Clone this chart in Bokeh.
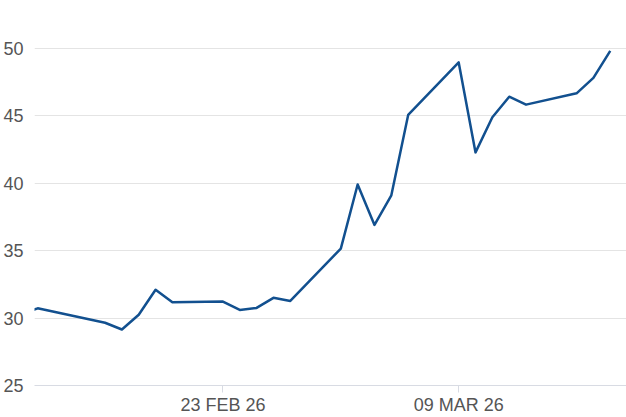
from datetime import datetime, timedelta
from bokeh.plotting import figure
from bokeh.models import Range1d, FixedTicker
from bokeh.embed import file_html
from bokeh.resources import INLINE

dates = ["2026-02-11", "2026-02-12", "2026-02-16", "2026-02-17", "2026-02-18",
         "2026-02-19", "2026-02-20", "2026-02-23", "2026-02-24", "2026-02-25",
         "2026-02-26", "2026-02-27", "2026-03-02", "2026-03-03", "2026-03-04",
         "2026-03-05", "2026-03-06", "2026-03-09", "2026-03-10", "2026-03-11",
         "2026-03-12", "2026-03-13", "2026-03-16", "2026-03-17", "2026-03-18"]
values = [30.3, 30.72, 29.65, 29.15, 30.24,
          32.1, 31.17, 31.22, 30.6, 30.75,
          31.5, 31.27, 35.15, 39.9, 36.9,
          39.1, 45.06, 48.95, 42.28, 44.89,
          46.41, 45.82, 46.66, 47.81, 49.8]
x_tick_dates = ["2026-02-23", "2026-03-09"]
x_tick_labels = ["23 FEB 26", "09 MAR 26"]
y_ticks = [25, 30, 35, 40, 45, 50]

xs = [datetime.strptime(d, "%Y-%m-%d") for d in dates]
epoch = datetime(1970, 1, 1)
def ms(dt):
    return (dt - epoch).total_seconds() * 1000.0

x_start = datetime(2026, 2, 12) - timedelta(days=0.19)
x_end = x_start + timedelta(days=35.155)

p = figure(width=626, height=417, x_axis_type="datetime",
           output_backend="svg", toolbar_location=None,
           x_range=Range1d(x_start, x_end), y_range=Range1d(25, 53.54),
           min_border_top=0, min_border_right=0, min_border_left=33, min_border_bottom=0)
p.outline_line_color = None
p.background_fill_color = "white"
p.border_fill_color = "white"

p.line(xs, values, line_color="#12508f", line_width=2.5, line_join="round")

tick_ms = [ms(datetime.strptime(d, "%Y-%m-%d")) for d in x_tick_dates]
p.xaxis.ticker = FixedTicker(ticks=tick_ms)
p.xaxis.major_label_overrides = {t: l for t, l in zip(tick_ms, x_tick_labels)}
p.xaxis.minor_tick_line_color = None
p.xaxis.axis_line_color = "#d8dbe3"
p.xaxis.major_tick_line_color = "#d8dbe3"
p.xaxis.major_tick_out = 7
p.xaxis.major_tick_in = 0
p.xaxis.major_label_standoff = 2
p.xaxis.major_label_text_font = "Liberation Sans"
p.xaxis.major_label_text_font_size = "18px"
p.xaxis.major_label_text_color = "#555555"

p.yaxis.ticker = FixedTicker(ticks=y_ticks)
p.yaxis.axis_line_color = None
p.yaxis.major_tick_line_color = None
p.yaxis.minor_tick_line_color = None
p.yaxis.major_label_standoff = 5
p.yaxis.major_label_text_font = "Liberation Sans"
p.yaxis.major_label_text_font_size = "18px"
p.yaxis.major_label_text_color = "#555555"

p.xgrid.grid_line_color = None
p.ygrid.grid_line_color = "#e4e4e4"
p.ygrid.grid_line_width = 1

open("out.html", "w").write(file_html(p, INLINE))
